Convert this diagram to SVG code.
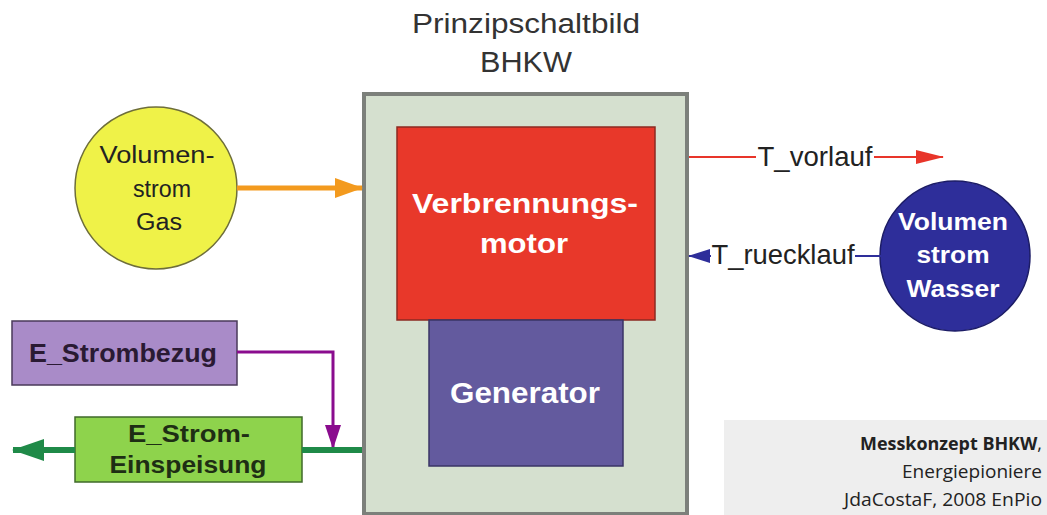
<svg xmlns="http://www.w3.org/2000/svg" width="1047" height="515" viewBox="0 0 1047 515">
<defs>
<style>
.t{font-family:"Liberation Sans",Arial,sans-serif;text-anchor:middle}
.b{font-weight:bold}
.c{font-family:"Open Sans","Liberation Sans",sans-serif;text-anchor:end;font-size:18px;fill:#222}
</style>
<marker id="aOr" markerWidth="28" markerHeight="20" refX="27" refY="10" orient="auto" markerUnits="userSpaceOnUse"><path d="M0,0 L28,10 L0,20 Z" fill="#f39a1e"/></marker>
<marker id="aRed" markerWidth="28" markerHeight="14" refX="27" refY="7" orient="auto" markerUnits="userSpaceOnUse"><path d="M0,0 L28,7 L0,14 Z" fill="#e8352a"/></marker>
<marker id="aBlu" markerWidth="22" markerHeight="14" refX="21" refY="7" orient="auto" markerUnits="userSpaceOnUse"><path d="M0,0 L22,7 L0,14 Z" fill="#2e2e9a"/></marker>
<marker id="aPur" markerWidth="24" markerHeight="16" refX="23" refY="8" orient="auto" markerUnits="userSpaceOnUse"><path d="M0,0 L24,8 L0,16 Z" fill="#8a0c8e"/></marker>
<marker id="aGrn" markerWidth="32" markerHeight="22" refX="31" refY="11" orient="auto" markerUnits="userSpaceOnUse"><path d="M0,0 L32,11 L0,22 Z" fill="#1f8a48"/></marker>
</defs>
<rect width="1047" height="515" fill="#ffffff"/>
<g id="title">
<text class="t" x="526" y="33" font-size="27" fill="#333" textLength="228" lengthAdjust="spacingAndGlyphs">Prinzipschaltbild</text>
<text class="t" x="526" y="72" font-size="30" fill="#333" textLength="92" lengthAdjust="spacingAndGlyphs">BHKW</text>
</g>
<g id="bhkw">
<rect x="364" y="94" width="323" height="420" fill="#d5e0cf" stroke="#7c807b" stroke-width="4"/>
</g>
<g id="motor">
<rect x="397" y="127" width="258" height="193" fill="#e8382a" stroke="#8c2a22" stroke-width="1.5"/>
<text class="t b" x="525" y="213" font-size="28" fill="#ffffff" textLength="226" lengthAdjust="spacingAndGlyphs">Verbrennungs-</text>
<text class="t b" x="524" y="253" font-size="28" fill="#ffffff" textLength="88" lengthAdjust="spacingAndGlyphs">motor</text>
</g>
<g id="generator">
<rect x="429" y="320" width="194" height="146" fill="#635a9e" stroke="#3a3566" stroke-width="1.5"/>
<text class="t b" x="525" y="403" font-size="29" fill="#ffffff" textLength="150" lengthAdjust="spacingAndGlyphs">Generator</text>
</g>
<g id="gas">
<circle cx="156" cy="188" r="81" fill="#eff248" stroke="#6e6e3a" stroke-width="1.5"/>
<text class="t" x="157" y="163" font-size="23" fill="#222" textLength="115" lengthAdjust="spacingAndGlyphs">Volumen-</text>
<text class="t" x="162" y="197" font-size="23" fill="#222" textLength="58" lengthAdjust="spacingAndGlyphs">strom</text>
<text class="t" x="159" y="230" font-size="23" fill="#222" textLength="46" lengthAdjust="spacingAndGlyphs">Gas</text>
</g>
<g id="wasser">
<circle cx="955" cy="256" r="75" fill="#2e2e9a" stroke="#1c1c66" stroke-width="1.5"/>
<text class="t b" x="953" y="230" font-size="24" fill="#ffffff" textLength="110" lengthAdjust="spacingAndGlyphs">Volumen</text>
<text class="t b" x="953" y="263" font-size="24" fill="#ffffff" textLength="73" lengthAdjust="spacingAndGlyphs">strom</text>
<text class="t b" x="953" y="297" font-size="24" fill="#ffffff" textLength="93" lengthAdjust="spacingAndGlyphs">Wasser</text>
</g>
<g id="strombezug">
<rect x="12" y="321" width="225" height="64" fill="#a98bc8" stroke="#4a3a5a" stroke-width="1.5"/>
<text class="t b" x="123" y="362" font-size="25" fill="#2a1a33" textLength="188" lengthAdjust="spacingAndGlyphs">E_Strombezug</text>
</g>
<g id="einspeisung">
<rect x="75" y="417" width="227" height="65" fill="#8ed34c" stroke="#3f6a2a" stroke-width="1.5"/>
<text class="t b" x="189" y="442" font-size="24" fill="#1e2e14" textLength="122" lengthAdjust="spacingAndGlyphs">E_Strom-</text>
<text class="t b" x="188" y="473" font-size="24" fill="#1e2e14" textLength="157" lengthAdjust="spacingAndGlyphs">Einspeisung</text>
</g>
<g id="credit">
<rect x="724" y="420" width="323" height="95" fill="#eeeeee"/>
<text class="c" x="1042" y="450" textLength="182" lengthAdjust="spacingAndGlyphs"><tspan font-weight="bold">Messkonzept BHKW</tspan>,</text>
<text class="c" x="1042" y="478" textLength="140" lengthAdjust="spacingAndGlyphs">Energiepioniere</text>
<text class="c" x="1042" y="506" textLength="198" lengthAdjust="spacingAndGlyphs">JdaCostaF, 2008 EnPio</text>
</g>
<g id="connectors">
<line x1="237" y1="188" x2="362" y2="188" stroke="#f39a1e" stroke-width="5" marker-end="url(#aOr)"/>
<line x1="689" y1="157" x2="756" y2="157" stroke="#e8352a" stroke-width="2"/>
<line x1="874" y1="157" x2="943" y2="157" stroke="#e8352a" stroke-width="2" marker-end="url(#aRed)"/>
<text class="t" x="815" y="166" font-size="27" fill="#222" textLength="115" lengthAdjust="spacingAndGlyphs">T_vorlauf</text>
<line x1="882" y1="256" x2="855" y2="256" stroke="#2e2e9a" stroke-width="2"/>
<line x1="711" y1="256" x2="689" y2="256" stroke="#2e2e9a" stroke-width="2" marker-end="url(#aBlu)"/>
<text class="t" x="783" y="264" font-size="27" fill="#222" textLength="143" lengthAdjust="spacingAndGlyphs">T_ruecklauf</text>
<polyline points="237,352 333,352 333,448" fill="none" stroke="#8a0c8e" stroke-width="3" marker-end="url(#aPur)"/>
<line x1="362" y1="450" x2="302" y2="450" stroke="#1f8a48" stroke-width="6"/>
<line x1="75" y1="450" x2="13" y2="450" stroke="#1f8a48" stroke-width="6" marker-end="url(#aGrn)"/>
</g>
</svg>
